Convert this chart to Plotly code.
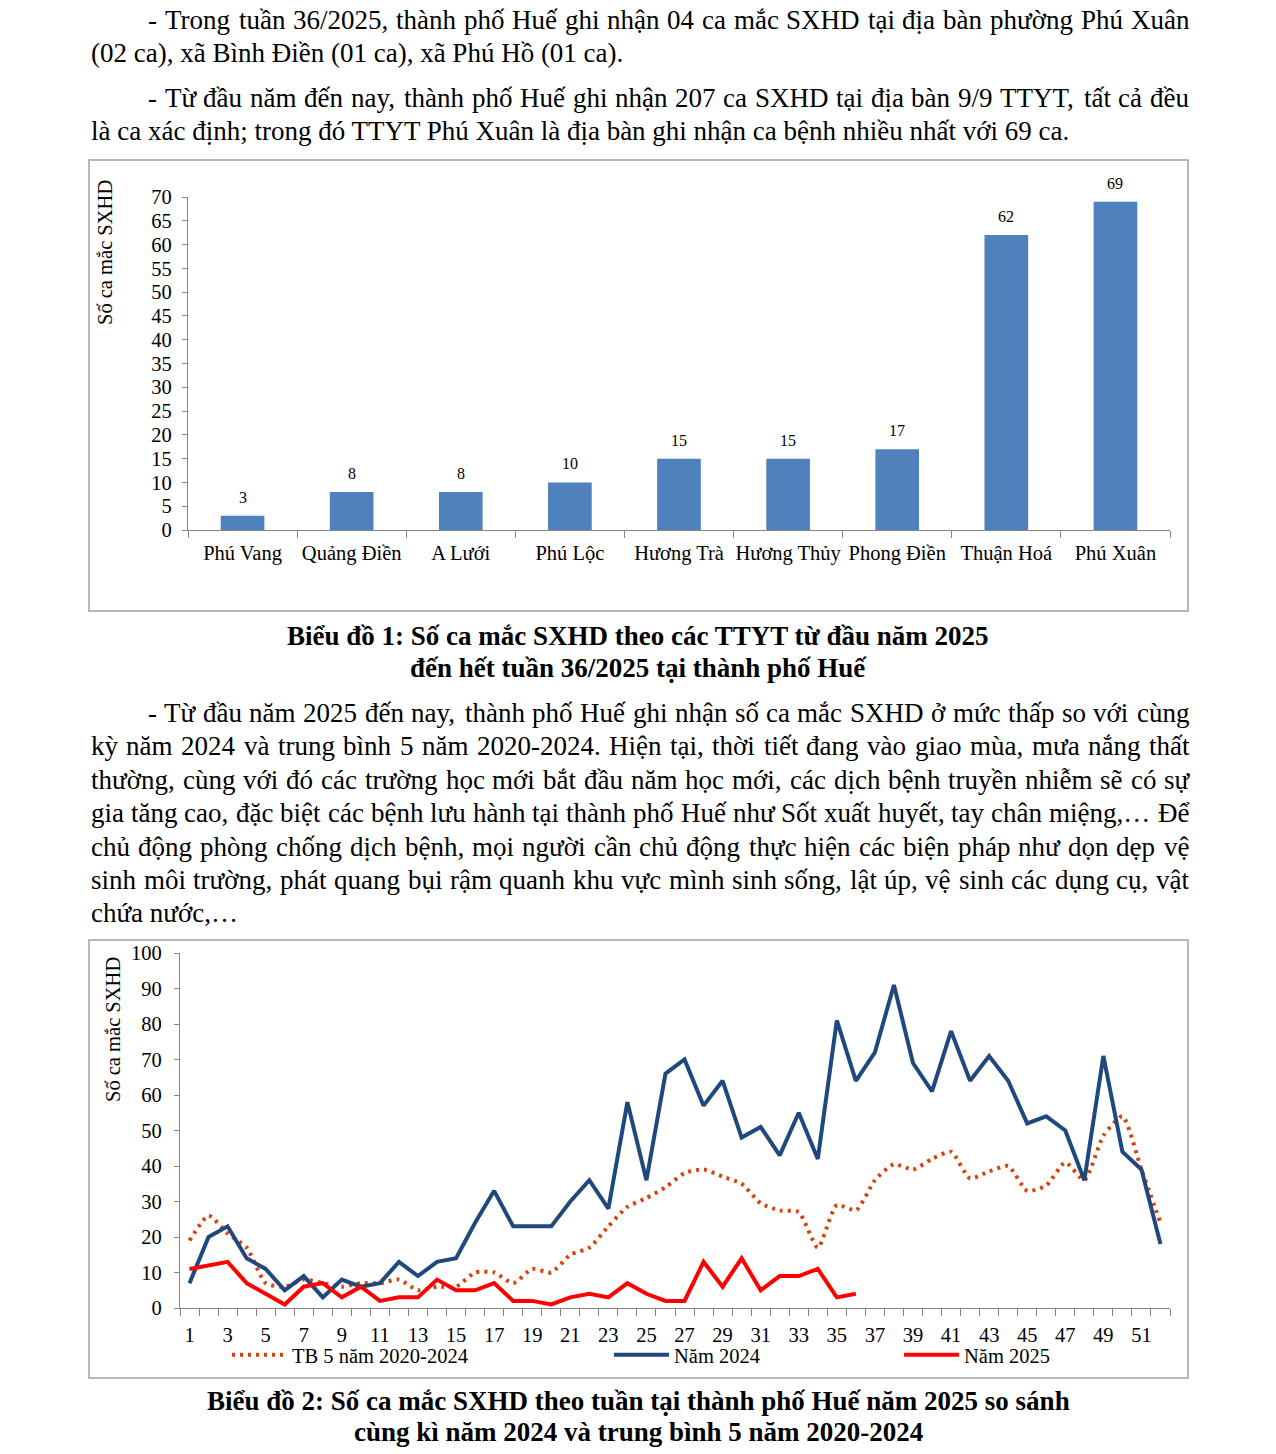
import unicodedata
import plotly.graph_objects as go

W, H = 1276, 1454
FONT = "Liberation Serif, Times New Roman, serif"

# ---------------- data ----------------
districts = ["Phú Vang", "Quảng Điền", "A Lưới", "Phú Lộc", "Hương Trà",
             "Hương Thủy", "Phong Điền", "Thuận Hoá", "Phú Xuân"]
cases_by_district = [3, 8, 8, 10, 15, 15, 17, 62, 69]

weeks = list(range(1, 53))
avg_2020_2024 = [19, 26, 21, 17, 7, 6, 8, 7, 6, 7,
                 7, 8, 5, 6, 6, 10, 10, 7, 11, 10,
                 15, 17, 23, 28.5, 31, 34, 38, 39, 37, 35,
                 29.5, 27.5, 27, 17, 29, 27.5, 36, 40.5, 39, 42,
                 44, 36.5, 38.5, 40, 33, 34.5, 41, 36, 48.5, 54,
                 39, 24]
year_2024 = [7, 20, 23, 14, 11, 5, 9, 3, 8, 6,
             7, 13, 9, 13, 14, 24, 33, 23, 23, 23,
             30, 36, 28, 58, 36, 66, 70, 57, 64, 48,
             51, 43, 55, 42, 81, 64, 72, 91, 69, 61,
             78, 64, 71, 64, 52, 54, 50, 36, 71, 44,
             39, 18]
year_2025 = [11, 12, 13, 7, 4, 1, 6, 7, 3, 6,
             2, 3, 3, 8, 5, 5, 7, 2, 2, 1,
             3, 4, 3, 7, 4, 2, 2, 13, 6, 14,
             5, 9, 9, 11, 3, 4]
week_tick_labels = list(range(1, 52, 2))

series_names = ["TB 5 năm 2020-2024", "Năm 2024", "Năm 2025"]
y_title = "Số ca mắc SXHD"

para1 = [
    "- Trong tuần 36/2025, thành phố Huế ghi nhận 04 ca mắc SXHD tại địa bàn phường Phú Xuân",
    "(02 ca), xã Bình Điền (01 ca), xã Phú Hồ (01 ca).",
]
para2 = [
    "- Từ đầu năm đến nay, thành phố Huế ghi nhận 207 ca SXHD tại địa bàn 9/9 TTYT, tất cả đều",
    "là ca xác định; trong đó TTYT Phú Xuân là địa bàn ghi nhận ca bệnh nhiều nhất với 69 ca.",
]
para3 = [
    "- Từ đầu năm 2025 đến nay, thành phố Huế ghi nhận số ca mắc SXHD ở mức thấp so với cùng",
    "kỳ năm 2024 và trung bình 5 năm 2020-2024. Hiện tại, thời tiết đang vào giao mùa, mưa nắng thất",
    "thường, cùng với đó các trường học mới bắt đầu năm học mới, các dịch bệnh truyền nhiễm sẽ có sự",
    "gia tăng cao, đặc biệt các bệnh lưu hành tại thành phố Huế như Sốt xuất huyết, tay chân miệng,… Để",
    "chủ động phòng chống dịch bệnh, mọi người cần chủ động thực hiện các biện pháp như dọn dẹp vệ",
    "sinh môi trường, phát quang bụi rậm quanh khu vực mình sinh sống, lật úp, vệ sinh các dụng cụ, vật",
    "chứa nước,…",
]
caption1 = ["Biểu đồ 1: Số ca mắc SXHD theo các TTYT từ đầu năm 2025",
            "đến hết tuần 36/2025 tại thành phố Huế"]
caption2 = ["Biểu đồ 2: Số ca mắc SXHD theo tuần tại thành phố Huế năm 2025 so sánh",
            "cùng kì năm 2024 và trung bình 5 năm 2020-2024"]

# ---------------- helpers ----------------
def px(x):
    return x / W


def py(y):
    return 1 - y / H


TR = {' ': 250, '!': 333, '"': 408, '%': 833, '&': 778, "'": 180, '(': 333, ')': 333,
      '*': 500, '+': 564, ',': 250, '-': 333, '.': 250, '/': 278, ':': 278, ';': 278,
      '?': 444, '…': 1000,
      'A': 722, 'B': 667, 'C': 667, 'D': 722, 'E': 611, 'F': 556, 'G': 722, 'H': 722,
      'I': 333, 'J': 389, 'K': 722, 'L': 611, 'M': 889, 'N': 722, 'O': 722, 'P': 556,
      'Q': 722, 'R': 667, 'S': 556, 'T': 611, 'U': 722, 'V': 722, 'W': 944, 'X': 722,
      'Y': 722, 'Z': 611,
      'a': 444, 'b': 500, 'c': 444, 'd': 500, 'e': 444, 'f': 333, 'g': 500, 'h': 500,
      'i': 278, 'j': 278, 'k': 500, 'l': 278, 'm': 778, 'n': 500, 'o': 500, 'p': 500,
      'q': 500, 'r': 333, 's': 389, 't': 278, 'u': 500, 'v': 500, 'w': 722, 'x': 500,
      'y': 500, 'z': 444}
for d in '0123456789':
    TR[d] = 500


def text_w(s, size):
    tot = 0
    for ch in s:
        if ch in TR:
            tot += TR[ch]
            continue
        if ch == 'đ':
            tot += 500
            continue
        if ch == 'Đ':
            tot += 722
            continue
        dec = unicodedata.normalize('NFD', ch)
        w = TR.get(dec[0], 500)
        if '\u031b' in dec:
            w += 40
        tot += w
    return tot * size / 1000


annotations = []
BODY = 27


def add_line(text, x0, y, justify_to=None, size=BODY):
    if justify_to is None:
        annotations.append(dict(text=text, x=px(x0), y=py(y), xref="paper", yref="paper",
                                xanchor="left", yanchor="middle", showarrow=False, borderpad=0,
                                font=dict(family=FONT, size=size, color="black")))
        return
    words = text.split(" ")
    ws = [text_w(w, size) for w in words]
    gap = (justify_to - x0 - sum(ws)) / (len(words) - 1)
    x = x0
    for w, ww in zip(words, ws):
        annotations.append(dict(text=w, x=px(x), y=py(y), xref="paper", yref="paper",
                                xanchor="left", yanchor="middle", showarrow=False, borderpad=0,
                                font=dict(family=FONT, size=size, color="black")))
        x += ww + gap


RIGHT = 1188
add_line(para1[0], 147, 20, RIGHT)
add_line(para1[1], 90, 53)
add_line(para2[0], 147, 98, RIGHT)
add_line(para2[1], 90, 131)
p3_y = [713, 746, 780, 813, 847, 880, 913]
for i, (t, yy) in enumerate(zip(para3, p3_y)):
    x0 = 147 if i == 0 else 90
    add_line(t, x0, yy, RIGHT if i < len(para3) - 1 else None)

for t, yy in zip(caption1, [636, 668]):
    annotations.append(dict(text="<b>" + t + "</b>", x=px(638), y=py(yy), xref="paper", yref="paper",
                            xanchor="center", yanchor="middle", showarrow=False,
                            font=dict(family=FONT, size=27, color="black")))
for t, yy in zip(caption2, [1401, 1432]):
    annotations.append(dict(text="<b>" + t + "</b>", x=px(638), y=py(yy), xref="paper", yref="paper",
                            xanchor="center", yanchor="middle", showarrow=False,
                            font=dict(family=FONT, size=27, color="black")))

# y-axis titles
annotations.append(dict(text=y_title, x=px(105), y=py(253), xref="paper", yref="paper",
                        textangle=-90, showarrow=False, xanchor="center", yanchor="middle",
                        font=dict(family=FONT, size=20.5, color="black")))
annotations.append(dict(text=y_title, x=px(113), y=py(1030), xref="paper", yref="paper",
                        textangle=-90, showarrow=False, xanchor="center", yanchor="middle",
                        font=dict(family=FONT, size=20.5, color="black")))

# bar value labels (placed on the bar chart's own data scale)
for cat, val in zip(districts, cases_by_district):
    annotations.append(dict(text=str(val), x=cat, y=val, xref="x", yref="y",
                            xanchor="center", yanchor="bottom", yshift=8, showarrow=False,
                            font=dict(family=FONT, size=16, color="black")))

# ---------------- figure ----------------
fig = go.Figure()

fig.add_trace(go.Bar(x=districts, y=cases_by_district, width=0.4,
                     marker=dict(color="#4F81BD", line=dict(width=0)),
                     showlegend=False, xaxis="x", yaxis="y"))

fig.add_trace(go.Scatter(x=weeks, y=avg_2020_2024, mode="lines", name=series_names[0],
                         line=dict(color="#D9420B", width=4, dash="3px,5px", shape="spline", smoothing=0.6),
                         xaxis="x2", yaxis="y2", legend="legend"))
fig.add_trace(go.Scatter(x=weeks, y=year_2024, mode="lines", name=series_names[1],
                         line=dict(color="#1F497D", width=4),
                         xaxis="x2", yaxis="y2", legend="legend2"))
fig.add_trace(go.Scatter(x=weeks[:len(year_2025)], y=year_2025, mode="lines", name=series_names[2],
                         line=dict(color="#FF0000", width=4),
                         xaxis="x2", yaxis="y2", legend="legend3"))

AX = "#868686"
tickfont = dict(family=FONT, size=20.5, color="black")

leg_common = dict(orientation="h", yanchor="middle", xanchor="left", y=py(1355),
                  bgcolor="rgba(0,0,0,0)", font=tickfont, borderwidth=0, itemwidth=55)

fig.update_layout(
    width=W, height=H, margin=dict(l=0, r=0, t=0, b=0, pad=0, autoexpand=False),
    paper_bgcolor="white", plot_bgcolor="white",
    showlegend=True,
    annotations=annotations,
    xaxis=dict(domain=[px(188), px(1170)], type="category", anchor="y",
               showline=True, linecolor=AX, linewidth=1.3, tickangle=0,
               ticks="outside", tickson="boundaries", ticklen=7, tickcolor=AX, tickwidth=1.3,
               tickfont=tickfont, showgrid=False, ticklabelstandoff=4, automargin=False),
    yaxis=dict(domain=[py(530), py(197)], range=[0, 70], dtick=5, anchor="x",
               showline=True, linecolor=AX, linewidth=1.3,
               ticks="outside", ticklen=5, tickcolor=AX, tickwidth=1.3,
               tickfont=tickfont, showgrid=False, zeroline=False, ticklabelstandoff=6,
               automargin=False),
    xaxis2=dict(domain=[px(180), px(1170)], range=[0.5, 52.5], anchor="y2",
                tickmode="array", tickvals=week_tick_labels,
                ticktext=[str(v) for v in week_tick_labels], tickangle=0,
                ticks="", showline=True, linecolor=AX, linewidth=1.3,
                minor=dict(ticks="outside", ticklen=7, tick0=0.5, dtick=1,
                           tickcolor=AX, tickwidth=1.3, showgrid=False),
                tickfont=tickfont, showgrid=False, zeroline=False, ticklabelstandoff=8,
                automargin=False),
    yaxis2=dict(domain=[py(1308), py(953)], range=[0, 100], dtick=10, anchor="x2",
                showline=True, linecolor=AX, linewidth=1.3,
                ticks="outside", ticklen=5, tickcolor=AX, tickwidth=1.3,
                tickfont=tickfont, showgrid=False, zeroline=False, ticklabelstandoff=8,
                automargin=False),
    legend=dict(x=px(227), **leg_common),
    legend2=dict(x=px(609), **leg_common),
    legend3=dict(x=px(899), **leg_common),
    shapes=[
        dict(type="rect", xref="paper", yref="paper", x0=px(89), x1=px(1188), y0=py(611), y1=py(160),
             line=dict(color="#A0A0A0", width=1.5), fillcolor="rgba(0,0,0,0)"),
        dict(type="rect", xref="paper", yref="paper", x0=px(89), x1=px(1188), y0=py(1378), y1=py(940),
             line=dict(color="#A0A0A0", width=1.5), fillcolor="rgba(0,0,0,0)"),
    ],
)

post = ("document.documentElement.style.margin='0';document.body.style.margin='0';"
        "document.documentElement.style.overflow='hidden';document.body.style.overflow='hidden';"
        "var gd=document.getElementById('{plot_id}');gd.style.position='fixed';"
        "gd.style.top='0px';gd.style.left='0px';")

fig.write_html("out.html", config={"displayModeBar": False}, post_script=post)
